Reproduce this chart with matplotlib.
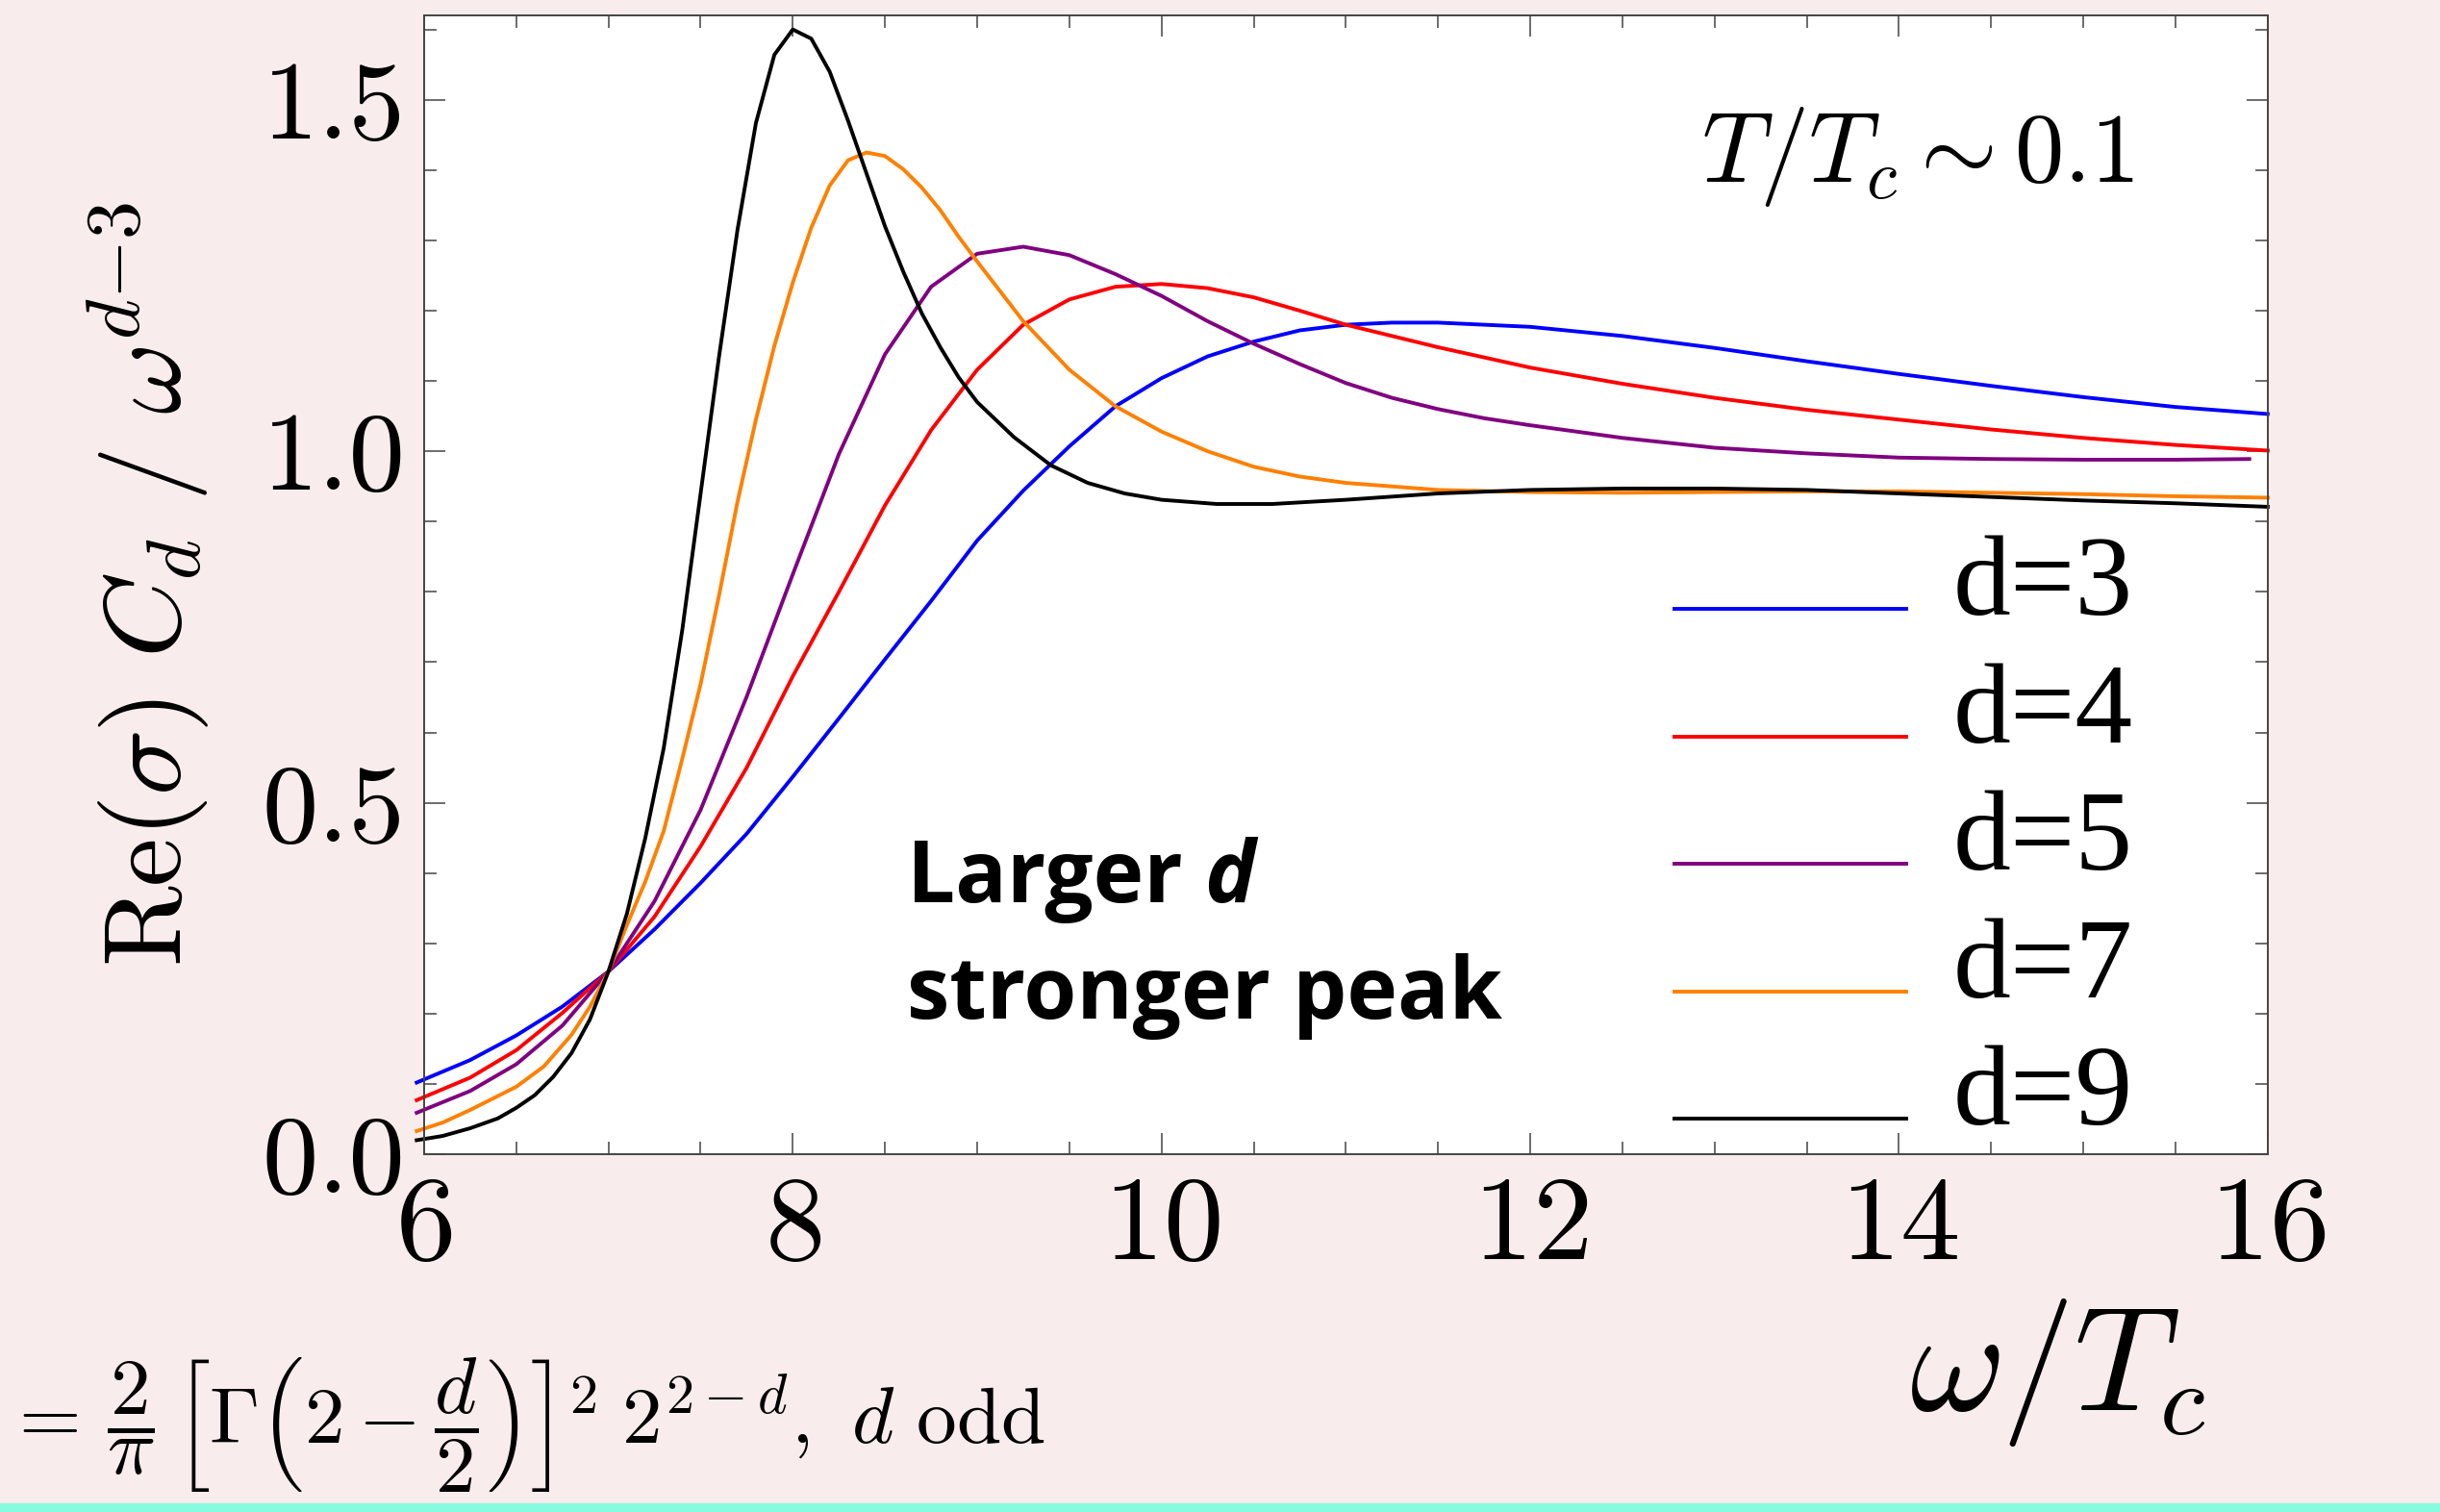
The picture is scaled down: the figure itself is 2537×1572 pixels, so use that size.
import numpy as np
import matplotlib
matplotlib.use('Agg')
import matplotlib.pyplot as plt
from matplotlib.ticker import MultipleLocator, FormatStrFormatter
from matplotlib.patches import Rectangle

plt.rcParams['mathtext.fontset'] = 'cm'
plt.rcParams['axes.formatter.use_mathtext'] = True

# values
x_d3 = [5.96, 6.25, 6.5, 6.75, 7.0, 7.25, 7.5, 7.75, 8.0, 8.25, 8.5, 8.75, 9.0, 9.25, 9.5, 9.75,
        10.0, 10.25, 10.5, 10.75, 11.0, 11.25, 11.5, 12.0, 12.5, 13.0, 13.5, 14.0, 14.5, 15.0, 15.5, 16.0]
y_d3 = [0.102, 0.134, 0.169, 0.210, 0.260, 0.320, 0.386, 0.456, 0.537, 0.620, 0.704, 0.787, 0.873, 0.944, 1.007, 1.064,
        1.104, 1.135, 1.156, 1.172, 1.180, 1.183, 1.183, 1.177, 1.164, 1.147, 1.128, 1.110, 1.093, 1.077, 1.063, 1.053]

x_d4 = x_d3
y_d4 = [0.077, 0.109, 0.148, 0.201, 0.260, 0.338, 0.438, 0.550, 0.680, 0.800, 0.923, 1.030, 1.116, 1.180, 1.216, 1.234,
        1.238, 1.232, 1.219, 1.200, 1.180, 1.164, 1.148, 1.119, 1.096, 1.076, 1.059, 1.045, 1.031, 1.019, 1.009, 1.001]

x_d5 = [5.96, 6.25, 6.5, 6.75, 7.0, 7.25, 7.5, 7.75, 8.0, 8.25, 8.5, 8.75, 9.0, 9.25, 9.5, 9.75,
        10.0, 10.25, 10.5, 10.75, 11.0, 11.25, 11.5, 11.75, 12.0, 12.5, 13.0, 13.5, 14.0, 14.5, 15.0, 15.5, 15.9]
y_d5 = [0.059, 0.090, 0.128, 0.183, 0.260, 0.360, 0.490, 0.651, 0.825, 0.996, 1.138, 1.234, 1.281, 1.291, 1.279, 1.252,
        1.221, 1.185, 1.153, 1.124, 1.097, 1.076, 1.060, 1.047, 1.037, 1.019, 1.005, 0.997, 0.991, 0.989, 0.988, 0.988, 0.989]

x_d7 = [5.96, 6.1, 6.25, 6.5, 6.65, 6.8, 6.9, 7.0, 7.1, 7.2, 7.3, 7.4, 7.5, 7.6, 7.7, 7.8, 7.9, 8.0, 8.1, 8.2,
        8.3, 8.4, 8.5, 8.6, 8.7, 8.8, 8.9, 9.0, 9.25, 9.5, 9.75, 10.0, 10.25, 10.5, 10.75, 11.0, 11.5, 12.0,
        12.5, 13.0, 13.5, 14.0, 14.5, 15.0, 15.5, 16.0]
y_d7 = [0.033, 0.045, 0.063, 0.096, 0.125, 0.170, 0.210, 0.260, 0.326, 0.388, 0.460, 0.562, 0.669, 0.795, 0.928,
        1.045, 1.150, 1.240, 1.318, 1.378, 1.414, 1.425, 1.420, 1.401, 1.375, 1.343, 1.305, 1.270, 1.185, 1.116,
        1.064, 1.028, 1.000, 0.978, 0.964, 0.955, 0.945, 0.942, 0.941, 0.942, 0.943, 0.943, 0.941, 0.939, 0.936, 0.934]

x_d9 = [5.96, 6.1, 6.25, 6.4, 6.5, 6.6, 6.7, 6.8, 6.9, 7.0, 7.1, 7.2, 7.3, 7.4, 7.5, 7.6, 7.7, 7.8, 7.9, 8.0,
        8.1, 8.2, 8.3, 8.4, 8.5, 8.6, 8.7, 8.8, 8.9, 9.0, 9.2, 9.4, 9.6, 9.8, 10.0, 10.3, 10.6, 11.0, 11.5,
        12.0, 12.5, 13.0, 13.5, 14.0, 14.5, 15.0, 15.5, 16.0]
y_d9 = [0.020, 0.026, 0.037, 0.051, 0.066, 0.084, 0.110, 0.144, 0.192, 0.260, 0.342, 0.450, 0.578, 0.745, 0.940,
        1.135, 1.315, 1.467, 1.564, 1.600, 1.587, 1.540, 1.470, 1.395, 1.320, 1.255, 1.196, 1.148, 1.105, 1.070,
        1.020, 0.980, 0.955, 0.940, 0.931, 0.925, 0.925, 0.931, 0.940, 0.945, 0.947, 0.947, 0.945, 0.940, 0.935,
        0.930, 0.926, 0.921]

labels = ['d=3', 'd=4', 'd=5', 'd=7', 'd=9']
colors = ['#0000ff', '#ff0000', '#800080', '#ff8000', '#000000']

bg = '#f9ecec'
fig = plt.figure(figsize=(25.37, 15.72), dpi=100, facecolor=bg)
ax = fig.add_axes([0.1738, 0.2366, 0.7556, 0.7532])

series = [(x_d3, y_d3), (x_d4, y_d4), (x_d5, y_d5), (x_d7, y_d7), (x_d9, y_d9)]
for (xs, ys), lab, c in zip(series, labels, colors):
    ax.plot(xs, ys, color=c, lw=2.8, label=lab, clip_on=False)

ax.set_xlim(6, 16)
ax.set_ylim(0, 1.62)
ax.xaxis.set_major_locator(MultipleLocator(2))
ax.xaxis.set_minor_locator(MultipleLocator(0.5))
ax.yaxis.set_major_locator(MultipleLocator(0.5))
ax.yaxis.set_minor_locator(MultipleLocator(0.1))
ax.yaxis.set_major_formatter(FormatStrFormatter('%.1f'))
ax.tick_params(which='both', direction='in', top=True, right=True, width=1.1, color='#444444')
ax.tick_params(which='major', length=16)
ax.tick_params(which='minor', length=9.5)
ax.tick_params(axis='x', labelsize=90, pad=16, labelfontfamily='cmr10')
ax.tick_params(axis='y', labelsize=84, pad=14, labelfontfamily='cmr10')
for s in ax.spines.values():
    s.set_linewidth(1.4)
    s.set_color('#444444')

ax.set_xlabel(r'$\omega/T_c$', fontsize=110)
ax.xaxis.set_label_coords(0.886, -0.125)
ax.set_ylabel(r'$\mathrm{Re}(\sigma)\ C_d\ /\ \omega^{d{-}3}$', fontsize=82)
ax.yaxis.set_label_coords(-0.115, 0.5)

ax.text(0.9275, 0.854, r'$T/T_c \sim 0.1$', transform=ax.transAxes, ha='right', va='baseline', fontsize=74)

leg = ax.legend(loc='lower left', bbox_to_anchor=(0.678, 0.005), frameon=False, borderpad=0, borderaxespad=0,
                prop={'family': 'Liberation Serif', 'size': 86}, handlelength=2.02, handletextpad=0.41,
                labelspacing=0.2)
for h in leg.legend_handles:
    h.set_ydata(np.full_like(np.asarray(h.get_ydata(), dtype=float), 4.3))

t1 = ax.text(0.2619, 0.2213, 'Larger', transform=ax.transAxes, ha='left', va='baseline',
             fontsize=64, fontweight='bold', family='Open Sans')
ax.annotate('d', xy=(1, 0), xycoords=t1, xytext=(16, 0), textcoords='offset points', ha='left', va='bottom',
            fontsize=64, fontweight='bold', fontstyle='italic', family='Open Sans')
ax.text(0.2619, 0.1193, 'stronger peak', transform=ax.transAxes, ha='left', va='baseline',
        fontsize=64, fontweight='bold', family='Open Sans')

fig.text(0.002, 0.0445,
         r'$=\,\dfrac{2}{\pi}\,\left[\Gamma\left(2-\dfrac{d}{2}\right)\right]^2\;2^{2-d},\ d\ \mathrm{odd}$',
         ha='left', va='baseline', fontsize=60)
fig.add_artist(Rectangle((0, 0), 1, 0.0057, transform=fig.transFigure, color='#86fbe0', zorder=10))

fig.savefig('out.png', dpi=100, facecolor=bg)
